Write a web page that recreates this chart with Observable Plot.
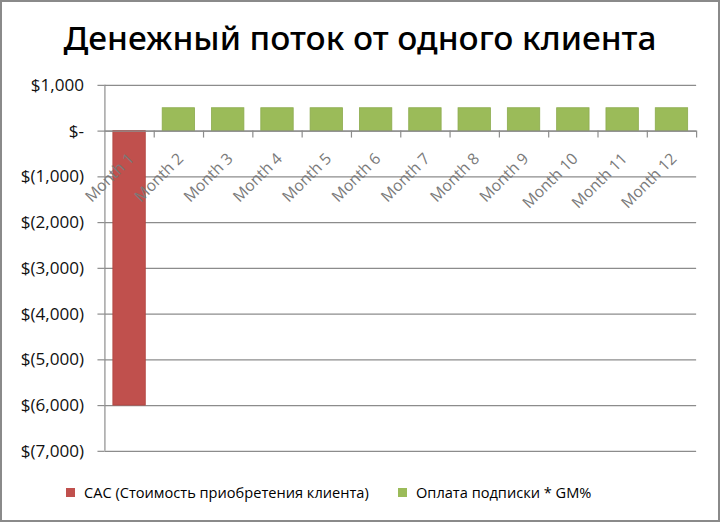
<!DOCTYPE html>
<html>
<head>
<meta charset="utf-8">
<script src="https://cdn.jsdelivr.net/npm/d3@7"></script>
<script src="https://cdn.jsdelivr.net/npm/@observablehq/plot@0.6"></script>
<style>
  html, body { margin: 0; padding: 0; background: #fff; }
  #wrap { position: relative; width: 720px; height: 522px; box-sizing: border-box; border: 2px solid #8a8a8a; overflow: hidden; font-family: "Open Sans", sans-serif; }
  #title { position: absolute; left: 0; top: 12px; width: 716px; text-align: center; font-family: "Noto Sans", sans-serif; font-size: 33.4px; font-weight: 500; color: #000; line-height: 46px; }
  #chart { position: absolute; left: -2px; top: 59px; }
  #legend { position: absolute; top: 478px; left: 0; width: 716px; height: 24px; font-family: "Open Sans", sans-serif; font-size: 14.6px; color: #000; }
  .item { position: absolute; top: 0; display: flex; align-items: center; height: 24px; white-space: nowrap; }
  .sw { width: 9px; height: 9px; margin-right: 9px; }
</style>
</head>
<body>
<div id="wrap">
  <div id="title">Денежный поток от одного клиента</div>
  <div id="chart"></div>
  <div id="legend"></div>
</div>
<script>
const months = ["Month 1","Month 2","Month 3","Month 4","Month 5","Month 6","Month 7","Month 8","Month 9","Month 10","Month 11","Month 12"];
const cac = [-6000, 0, 0, 0, 0, 0, 0, 0, 0, 0, 0, 0];
const subscription = [0, 500, 500, 500, 500, 500, 500, 500, 500, 500, 500, 500];
const yTicks = [1000, 0, -1000, -2000, -3000, -4000, -5000, -6000, -7000];
const seriesNames = ["CAC (Стоимость приобретения клиента)", "Оплата подписки * GM%"];
const seriesColors = ["#C0504D", "#9BBB59"];

const rows = [];
months.forEach((m, i) => {
  if (cac[i] !== 0) rows.push({i, month: m, value: cac[i], series: seriesNames[0]});
  if (subscription[i] !== 0) rows.push({i, month: m, value: subscription[i], series: seriesNames[1]});
});
const fmt = d => d === 0 ? "$-" : d < 0 ? `$(${d3.format(",")(-d)})` : `$${d3.format(",")(d)}`;

const chart = Plot.plot({
  width: 722,
  height: 414,
  marginLeft: 105,
  marginRight: 22,
  marginTop: 24,
  marginBottom: 22,
  style: {fontFamily: "Open Sans, sans-serif", background: "transparent"},
  x: {domain: [0, 12], axis: null},
  y: {domain: [-7000, 1000], axis: null},
  color: {domain: seriesNames, range: seriesColors},
  marks: [
    Plot.ruleY(yTicks, {stroke: "#8c8c8c", strokeWidth: 1.2}),
    Plot.ruleX([0], {y1: -7000, y2: 1000, stroke: "#8c8c8c", strokeWidth: 1.2}),
    Plot.ruleY(yTicks, {x1: 0, x2: 0, insetLeft: -7, stroke: "#8c8c8c", strokeWidth: 1.2}),
    Plot.text(yTicks, {x: 0, y: d => d, text: fmt, textAnchor: "end", dx: -21, fontSize: 17.2, fill: "#111"}),
    Plot.rectY(rows, {x1: "i", x2: d => d.i + 1, y1: 0, y2: "value", fill: "series", stroke: d => d.series === seriesNames[0] ? "#b0443f" : "#8cab4d", strokeWidth: 0.8, insetLeft: 8.5, insetRight: 8.5}),
    Plot.ruleY([0], {stroke: "#8c8c8c", strokeWidth: 1.2}),
    Plot.ruleX(d3.range(1, 13), {y1: 0, y2: 0, insetBottom: -7, stroke: "#8c8c8c", strokeWidth: 1.2}),
    Plot.text(months, {x: (d, i) => i + 0.5, y: 0, text: d => d, rotate: -45, textAnchor: "end", dx: 2, dy: 25, fontSize: 15.8, fill: "#7a7a7a"})
  ]
});
document.getElementById("chart").appendChild(chart);

const legend = document.getElementById("legend");
const lefts = [64, 396];
seriesNames.forEach((n, k) => {
  const it = document.createElement("div");
  it.className = "item";
  it.style.left = lefts[k] + "px";
  const sw = document.createElement("div");
  sw.className = "sw";
  sw.style.background = seriesColors[k];
  it.appendChild(sw);
  const t = document.createElement("span");
  t.textContent = n;
  it.appendChild(t);
  legend.appendChild(it);
});
</script>
</body>
</html>
